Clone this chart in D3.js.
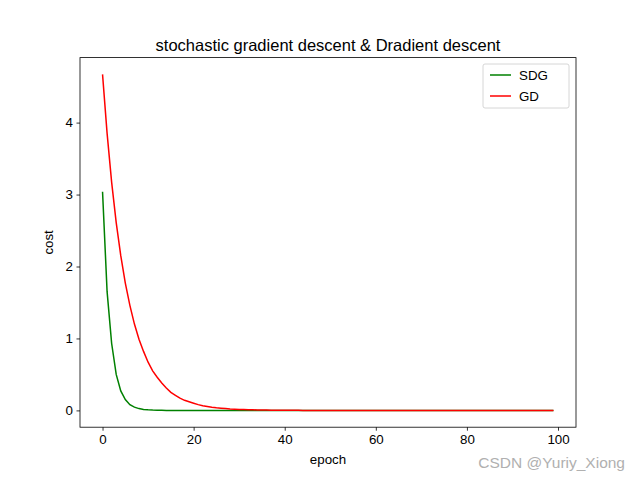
<!DOCTYPE html>
<html><head><meta charset="utf-8">
<script src="https://cdn.jsdelivr.net/npm/d3@7"></script>
<style>body{margin:0;background:#fff}text{font-family:"Liberation Sans",Arial,sans-serif}</style>
</head><body><svg id="c" width="640" height="480"></svg>
<script>
const gdCost = [
4.67,3.85,3.17,2.61,2.15,1.77,1.46,1.20,0.99,0.82,
0.67,0.55,0.46,0.38,0.31,0.25,0.21,0.17,0.14,0.12,
0.10,0.08,0.065,0.054,0.044,0.036,0.03,0.025,0.02,0.017,
0.014,0.011,0.009,0.008,0.006,0.005,0.004,0.0035,0.003,0.002,
0.002,0.001,0.001,0.001,0,0,0,0,0,0,
0,0,0,0,0,0,0,0,0,0,
0,0,0,0,0,0,0,0,0,0,
0,0,0,0,0,0,0,0,0,0,
0,0,0,0,0,0,0,0,0,0,
0,0,0,0,0,0,0,0,0,0];
const sdgCost = [
3.04,1.65,0.93,0.50,0.27,0.15,0.08,0.045,0.025,0.014,
0.008,0.004,0.002,0.001,0,0,0,0,0,0,
0,0,0,0,0,0,0,0,0,0,
0,0,0,0,0,0,0,0,0,0,
0,0,0,0,0,0,0,0,0,0,
0,0,0,0,0,0,0,0,0,0,
0,0,0,0,0,0,0,0,0,0,
0,0,0,0,0,0,0,0,0,0,
0,0,0,0,0,0,0,0,0,0,
0,0,0,0,0,0,0,0,0,0];
const xTicks=[0,20,40,60,80,100], yTicks=[0,1,2,3,4];
const svg=d3.select("#c");
const L=80,R=576,T=57.6,B=427.2;
const x=d3.scaleLinear().domain([-4.95,103.95]).range([L,R]);
const ymax=4.67, ymin=0, pad=(ymax-ymin)*0.05;
const y=d3.scaleLinear().domain([ymin-pad,ymax+pad]).range([B,T]);
const line=d3.line().x((d,i)=>x(i)).y(d=>y(d));
svg.append("path").datum(sdgCost).attr("d",line).attr("fill","none").attr("stroke","green").attr("stroke-width",1.5);
svg.append("path").datum(gdCost).attr("d",line).attr("fill","none").attr("stroke","red").attr("stroke-width",1.5);
const ax=svg.append("g").attr("transform",`translate(0,${B})`).call(d3.axisBottom(x).tickValues(xTicks).tickFormat(d3.format("d")).tickSize(3.5).tickPadding(3.5).tickSizeOuter(0));
const ay=svg.append("g").attr("transform",`translate(${L},0)`).call(d3.axisLeft(y).tickValues(yTicks).tickFormat(d3.format("d")).tickSize(3.5).tickPadding(3.5).tickSizeOuter(0));
[ax,ay].forEach(a=>{a.select(".domain").remove();a.selectAll("text").attr("font-size",13.33).attr("fill","#000").style("font-family","Liberation Sans");a.selectAll("line").attr("stroke","#000").attr("stroke-width",0.8);});
svg.append("rect").attr("x",L).attr("y",T).attr("width",R-L).attr("height",B-T).attr("fill","none").attr("stroke","#000").attr("stroke-width",0.8);
svg.append("text").attr("x",(L+R)/2).attr("y",T-7).attr("text-anchor","middle").attr("font-size",16.5).text("stochastic gradient descent & Dradient descent");
svg.append("text").attr("x",(L+R)/2).attr("y",464).attr("text-anchor","middle").attr("font-size",13.33).text("epoch");
svg.append("text").attr("transform",`translate(53,${(T+B)/2}) rotate(-90)`).attr("text-anchor","middle").attr("font-size",13.33).text("cost");
const lg=svg.append("g");
lg.append("rect").attr("x",483).attr("y",64).attr("width",86).attr("height",44).attr("rx",2).attr("fill","#fff").attr("stroke","#ccc").attr("stroke-width",0.8);
[["SDG","green",75],["GD","red",96]].forEach(([t,c,yy])=>{
 lg.append("line").attr("x1",490).attr("x2",511).attr("y1",yy).attr("y2",yy).attr("stroke",c).attr("stroke-width",1.5);
 lg.append("text").attr("x",519).attr("y",yy+4.5).attr("font-size",13.33).text(t);
});
svg.append("text").attr("x",625).attr("y",468).attr("text-anchor","end").attr("font-size",15.5).attr("fill","#b0b0b0").text("CSDN @Yuriy_Xiong");
</script></body></html>
